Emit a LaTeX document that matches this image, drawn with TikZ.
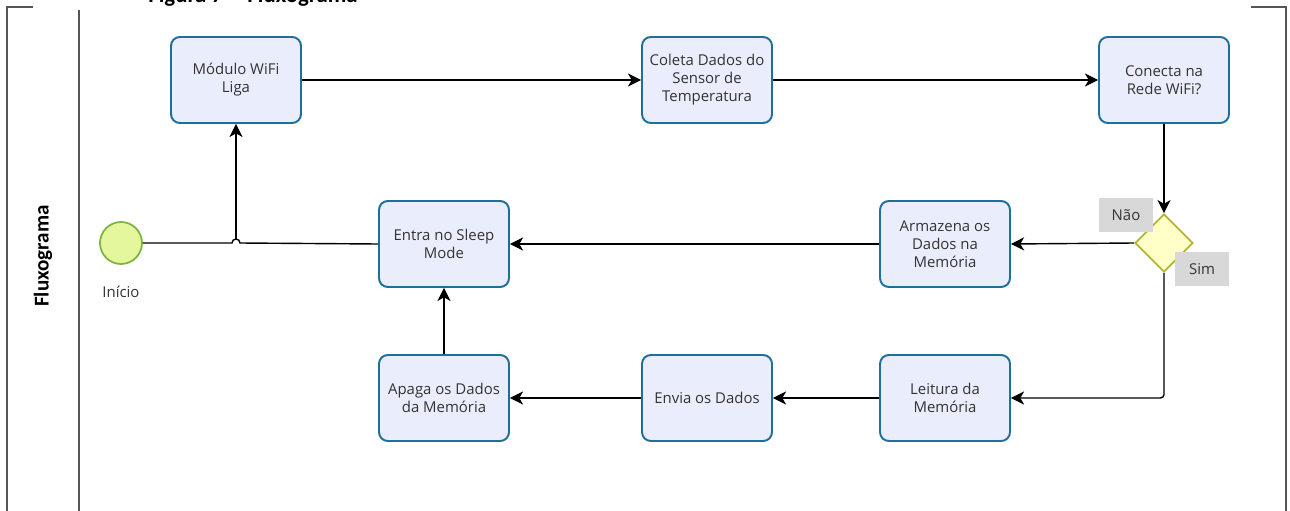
\documentclass[tikz,border=0pt]{standalone}
\usepackage{fontspec}
\setmainfont{Open Sans}
\newfontfamily\capfont{Carlito}
\usetikzlibrary{arrows.meta,shapes.geometric}

\definecolor{boxline}{RGB}{31,111,156}
\definecolor{boxfill}{RGB}{234,237,252}
\definecolor{startfill}{RGB}{229,247,157}
\definecolor{startline}{RGB}{124,179,66}
\definecolor{decfill}{RGB}{255,255,200}
\definecolor{decline}{RGB}{181,181,50}
\definecolor{tagfill}{RGB}{216,216,216}
\definecolor{frameline}{RGB}{85,85,85}
\definecolor{txt}{RGB}{51,51,51}

\tikzset{
  procbox/.style={draw=boxline, fill=boxfill, line width=1.1pt, rounded corners=5pt,
    minimum width=2.6cm, minimum height=1.72cm, align=center, text=txt,
    font=\fontsize{8.5}{10.2}\selectfont},
  startdot/.style={circle, draw=startline, fill=startfill, line width=1pt, minimum size=0.84cm, inner sep=0pt},
  decision/.style={diamond, aspect=1, draw=decline, fill=decfill, line width=1pt,
    minimum width=1.16cm, minimum height=1.16cm, inner sep=0pt},
  tagbox/.style={fill=tagfill, minimum width=1.08cm, minimum height=0.68cm, text=txt,
    font=\fontsize{8.5}{10}\selectfont},
  flowline/.style={line width=0.8pt, -{Stealth[length=7.5pt,width=7.5pt,inset=2.2pt]}},
  plainline/.style={line width=0.8pt},
  frame/.style={draw=frameline, line width=0.8pt}
}

\begin{document}
\begin{tikzpicture}[x=0.02cm, y=-0.02cm]
    \useasboundingbox (0,0) rectangle (1290,510);
    % frame and lane
    \draw[frame] (33,7) -- (7,7) -- (7,515);
    \draw[frame] (79,10) -- (79,515);
    \draw[frame] (1251,7) -- (1286,7) -- (1286,515);
    \node[anchor=base, font=\capfont\bfseries\fontsize{13}{15}\selectfont] (title) at (253,3) {Figura 7 -- Fluxograma};
    \node[rotate=90, font=\capfont\bfseries\fontsize{12}{14}\selectfont] (lane) at (43,256) {Fluxograma};

    % nodes
    \node[startdot] (start) at (121,243) {};
    \node[text=txt, font=\fontsize{8.5}{10}\selectfont] (startlbl) at (121,292) {Início};
    \node[procbox] (wifi) at (236,80) {Módulo WiFi\\Liga};
    \node[procbox] (coleta) at (707,80) {Coleta Dados do\\Sensor de\\Temperatura};
    \node[procbox] (conecta) at (1164,80) {Conecta na\\Rede WiFi?};
    \node[decision] (dec) at (1164,243) {};
    \node[procbox] (armazena) at (945,244) {Armazena os\\Dados na\\Memória};
    \node[procbox] (sleep) at (444,244) {Entra no Sleep\\Mode};
    \node[procbox] (leitura) at (945,398) {Leitura da\\Memória};
    \node[procbox] (envia) at (707,398) {Envia os Dados};
    \node[procbox] (apaga) at (444,398) {Apaga os Dados\\da Memória};
    \node[tagbox] (nao) at (1126,215) {Não};
    \node[tagbox] (sim) at (1202,269) {Sim};
    \coordinate (hopL) at (232,243);
    \coordinate (hopT) at (236,239);
    \coordinate (bend) at (1164,398);

    % connectors
    \draw[plainline] (start.east) -- (hopL) arc (180:360:4) -- (sleep.west);
    \draw[flowline] (hopT) -- (wifi.south);
    \draw[flowline] (wifi.east) -- (coleta.west);
    \draw[flowline] (coleta.east) -- (conecta.west);
    \draw[flowline] (conecta.south) -- (dec.north);
    \draw[flowline] (dec.west) -- (armazena.east);
    \draw[flowline] (armazena.west) -- (sleep.east);
    \draw[flowline, rounded corners=2pt] (dec.south) -- (bend) -- (leitura.east);
    \draw[flowline] (leitura.west) -- (envia.east);
    \draw[flowline] (envia.west) -- (apaga.east);
    \draw[flowline] (apaga.north) -- (sleep.south);
\end{tikzpicture}
\end{document}
